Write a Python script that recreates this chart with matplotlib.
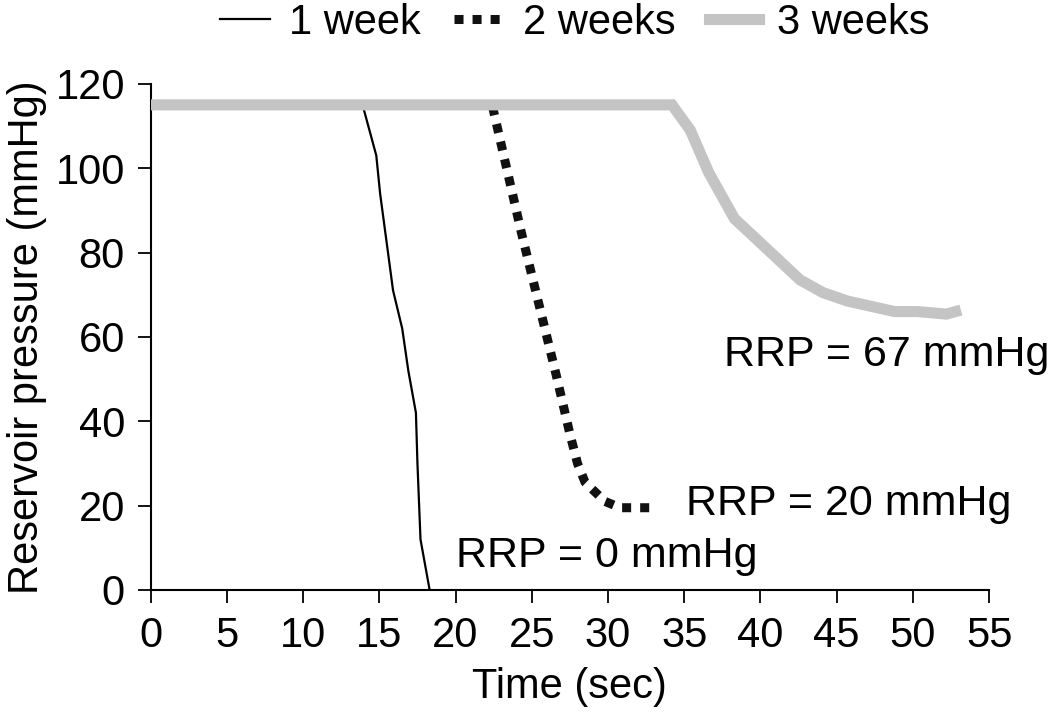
"""
Reservoir pressure decay after 1, 2 and 3 weeks, with residual
reservoir pressure (RRP) annotated for each curve.
"""

import matplotlib
matplotlib.use("Agg")
import matplotlib.pyplot as plt

plt.rcParams["font.family"] = ["Liberation Sans", "DejaVu Sans"]

# ---------------------------------------------------------------------
# Data (time in sec, pressure in mmHg)
# ---------------------------------------------------------------------

t_week1 = [0, 13.9, 14.8, 15.05, 15.9, 16.5, 16.9, 17.4, 17.5, 17.7, 18.3]
p_week1 = [115, 115, 103, 94, 71, 62, 52, 42, 30, 12, 0]

t_week2 = [0, 22.4, 24.3, 26.6, 27.5, 28.0, 28.5, 29.8, 30.8, 33.2]
p_week2 = [115, 115, 85, 51, 37, 30, 25.5, 21, 19.5, 19.5]

t_week3 = [0, 34.2, 35.4, 36.6, 38.3, 38.9, 42.6, 44.1, 45.7, 48.8, 50.3, 52.2, 52.8]
p_week3 = [115, 115, 109, 99, 88, 86, 73.5, 70.5, 68.5, 66, 66, 65.4, 66]

labels = ["1 week", "2 weeks", "3 weeks"]

# annotation text and anchor (left edge, baseline) in data coords
rrp_texts = ["RRP = 0 mmHg", "RRP = 20 mmHg", "RRP = 67 mmHg"]
rrp_x     = [20.0, 35.1, 37.6]
rrp_y     = [5.5, 17.8, 53.0]

# ---------------------------------------------------------------------
# Figure
# ---------------------------------------------------------------------

fig = plt.figure(figsize=(10.5, 7.16), dpi=100)
ax = fig.add_axes([0.1435, 0.176, 0.7985, 0.707])

ax.plot(t_week1, p_week1, color="black", lw=1.6, label=labels[0], zorder=2)
ax.plot(t_week2, p_week2, color="#111111", lw=6.5, linestyle=(0, (1, 1)),
        dash_capstyle="butt", label=labels[1], zorder=2)
ax.plot(t_week3, p_week3, color="#c4c4c4", lw=8, solid_joinstyle="miter",
        label=labels[2], zorder=3)

for txt, x, y in zip(rrp_texts, rrp_x, rrp_y):
    ax.text(x, y, txt, fontsize=31, ha="left", va="baseline")

ax.set_xlim(0, 55)
ax.set_ylim(0, 120)
ax.set_xticks(range(0, 56, 5))
ax.set_yticks(range(0, 121, 20))

for side in ("top", "right"):
    ax.spines[side].set_visible(False)
for side in ("left", "bottom"):
    ax.spines[side].set_linewidth(1.5)

ax.tick_params(direction="out", length=9.5, width=1.3, labelsize=30)
ax.tick_params(axis="x", pad=9.5)
ax.tick_params(axis="y", pad=9)

ax.set_xlabel("Time (sec)", fontsize=30, labelpad=8)
ax.set_ylabel("Reservoir pressure (mmHg)", fontsize=30, labelpad=6)

ax.legend(loc="upper center", bbox_to_anchor=(0.506, 1.16), ncol=3,
          frameon=False, fontsize=30, handlelength=1.2, handletextpad=0.45,
          columnspacing=0.8, borderaxespad=0, borderpad=0)

fig.savefig("out.png", dpi=100)
plt.close(fig)
